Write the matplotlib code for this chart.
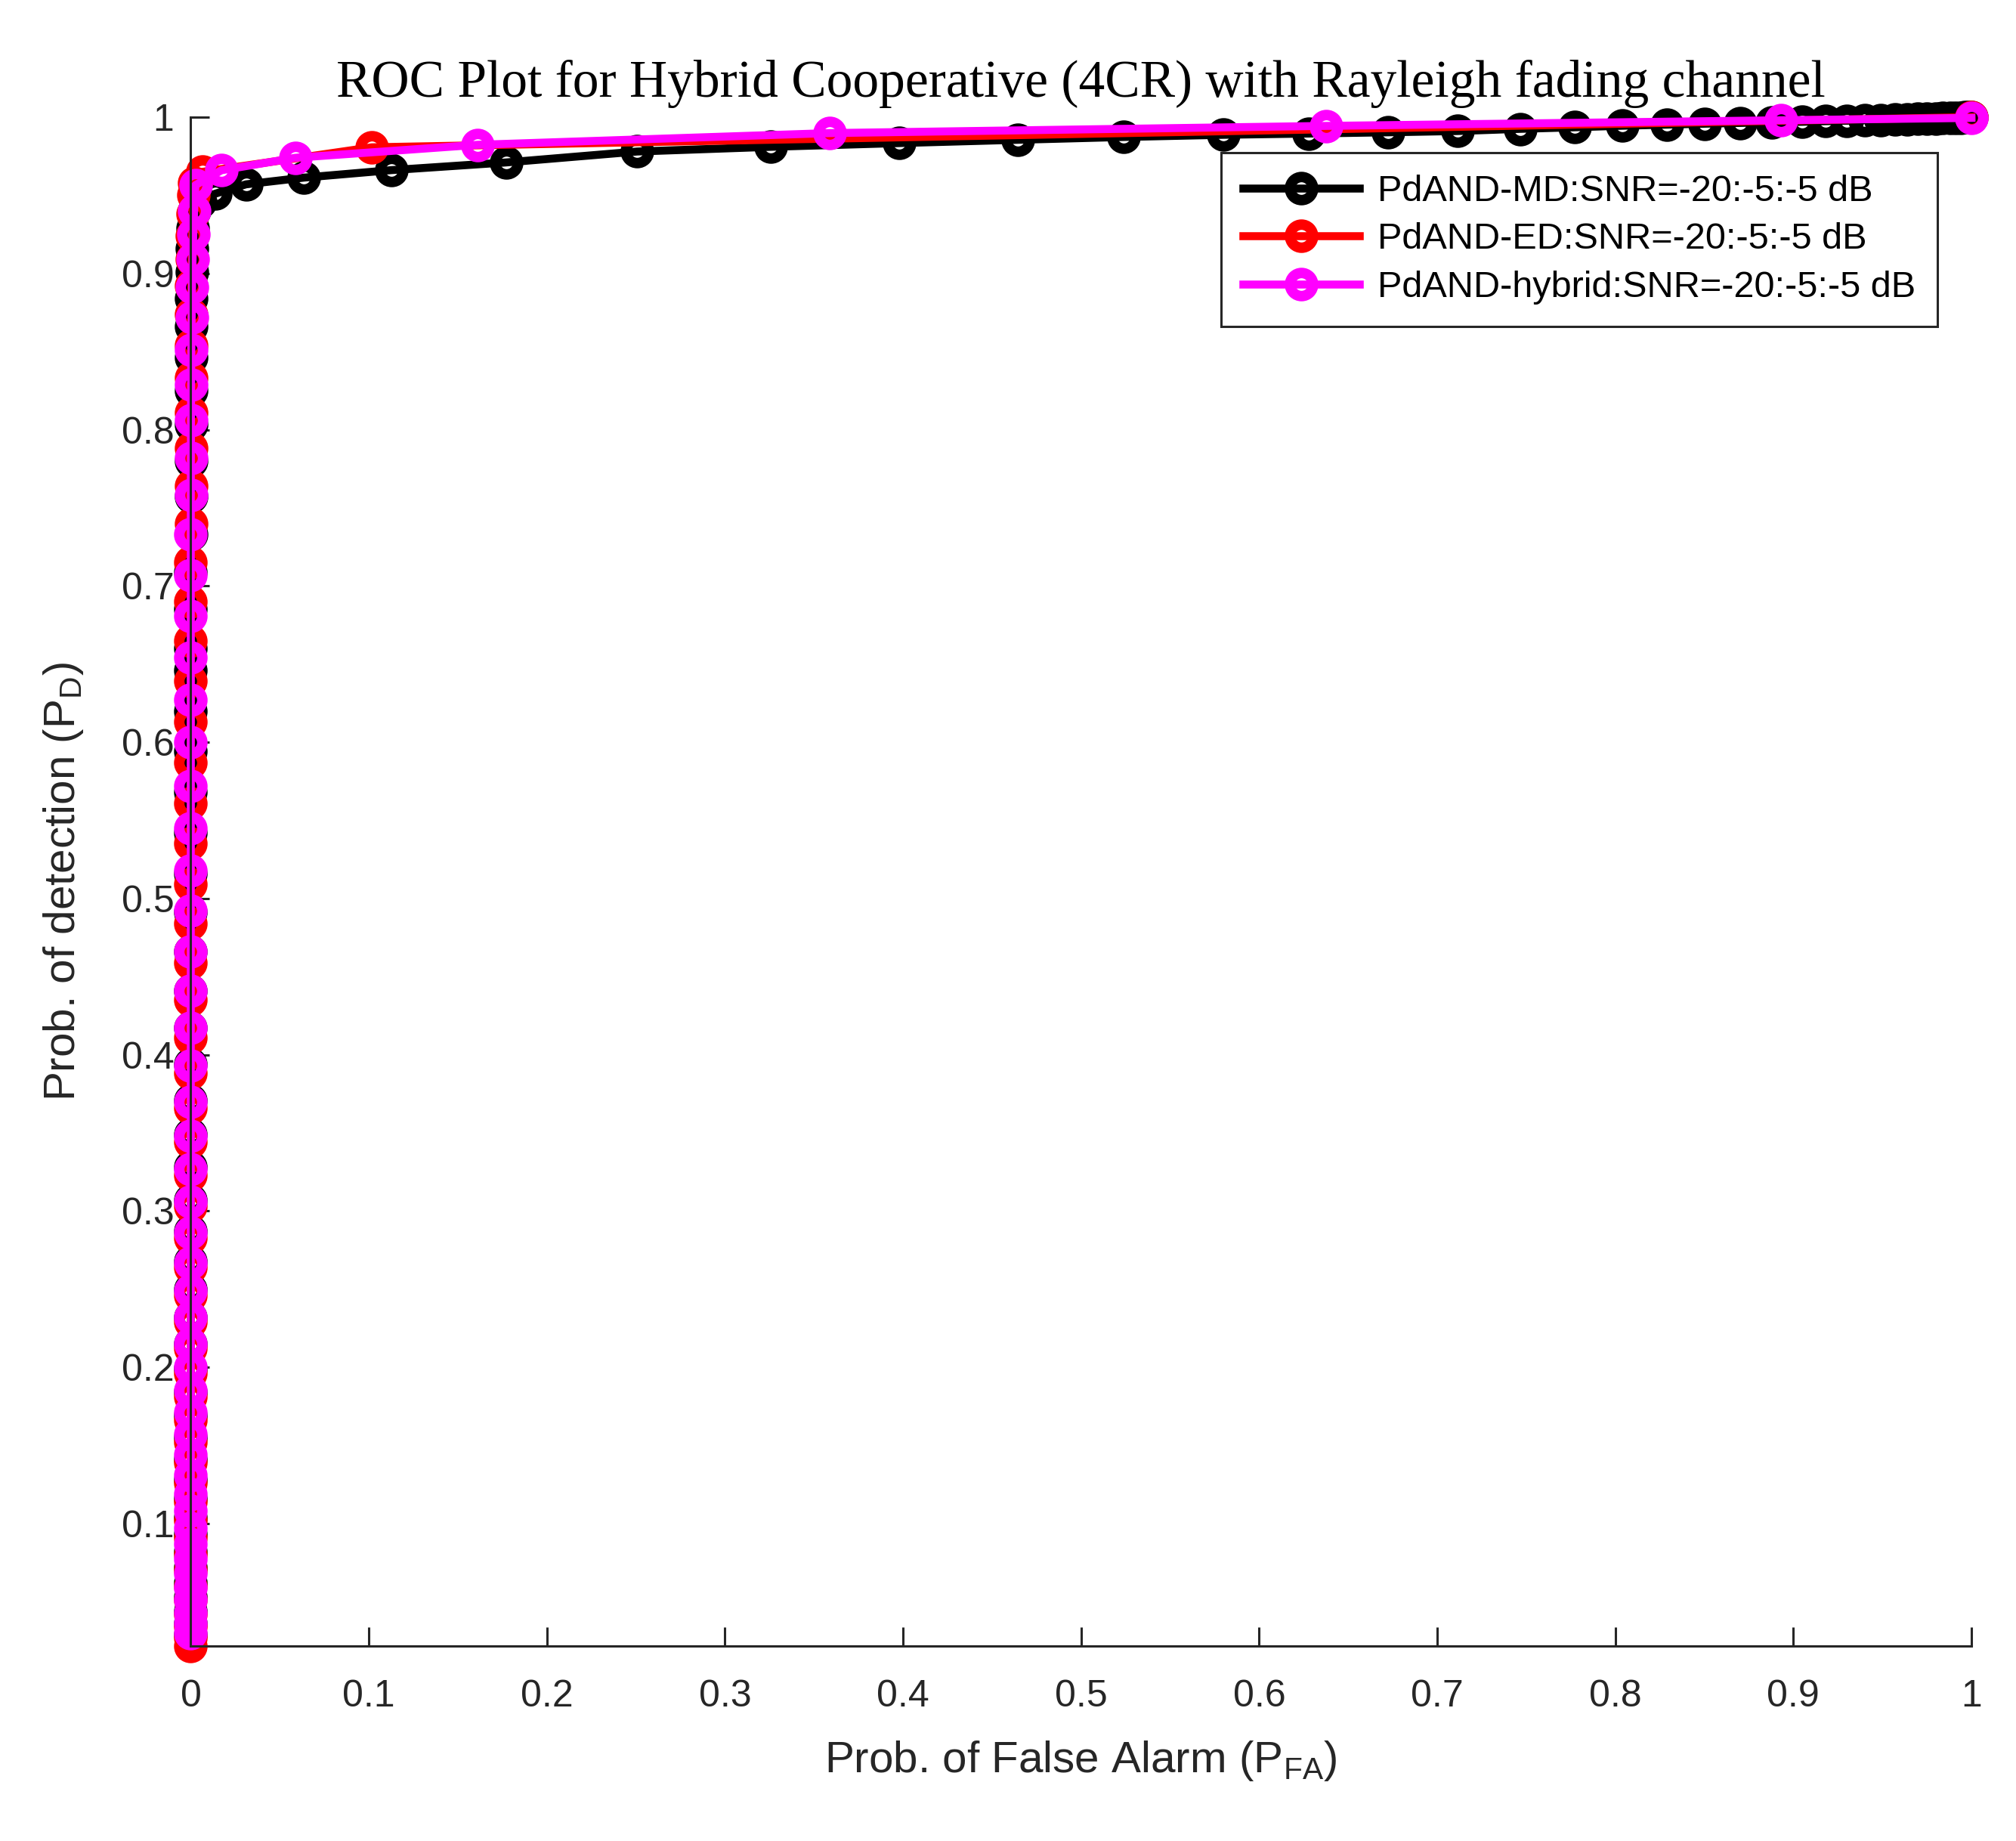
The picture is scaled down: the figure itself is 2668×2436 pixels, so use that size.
import matplotlib
matplotlib.use('Agg')
import matplotlib.pyplot as plt
from matplotlib.ticker import FixedLocator, FixedFormatter

# ---------------- data ----------------
md_pfa = [0.0, 0.0, 0.0, 0.0, 0.0, 0.0, 0.0, 0.0, 0.0, 0.0,
          0.0, 0.0, 0.0, 0.0, 0.0, 0.0, 0.0, 0.0, 0.0, 0.0,
          0.0, 0.0, 0.0, 0.0, 0.0, 0.0, 0.0, 0.0, 0.0, 0.0,
          0.0, 0.0, 0.0, 0.0, 0.0, 0.0, 0.0, 0.0, 0.0, 0.00001,
          0.00002, 0.00004, 0.00007, 0.0001, 0.00015, 0.0002, 0.0003, 0.0005, 0.0008, 0.0012,
          0.0018,
          0.0055, 0.0137, 0.031, 0.0635, 0.1127, 0.177, 0.2507, 0.3257, 0.398, 0.4645,
          0.524, 0.580, 0.628, 0.6726, 0.7113, 0.7465, 0.777, 0.804, 0.829, 0.850,
          0.870, 0.888, 0.905, 0.918, 0.930, 0.940, 0.949, 0.957, 0.964, 0.970,
          0.975, 0.980, 0.984, 0.988, 0.991, 0.994, 0.996, 0.998, 1.0]
md_pd = [0.029, 0.036, 0.044, 0.053, 0.062, 0.072, 0.082, 0.093, 0.104, 0.116,
         0.128, 0.141, 0.155, 0.169, 0.184, 0.199, 0.215, 0.232, 0.250, 0.268,
         0.287, 0.307, 0.328, 0.349, 0.371, 0.394, 0.417, 0.441, 0.466, 0.491,
         0.516, 0.542, 0.568, 0.594, 0.620, 0.646, 0.660, 0.685, 0.709, 0.733,
         0.757, 0.780, 0.803, 0.825, 0.846, 0.866, 0.884, 0.901, 0.916, 0.929,
         0.940,
         0.946, 0.951, 0.957, 0.9613, 0.9661, 0.971, 0.978, 0.981, 0.9834, 0.9855,
         0.9873, 0.9887, 0.9895, 0.9903, 0.9911, 0.9925, 0.9935, 0.9945, 0.9952, 0.9958,
         0.9963, 0.9967, 0.9970, 0.9974, 0.9977, 0.9980, 0.9983, 0.9985, 0.9987, 0.9989,
         0.9990, 0.9992, 0.9993, 0.9995, 0.9996, 0.9997, 0.9998, 0.9999, 1.0]

ed_pfa = [0.0, 0.0, 0.0, 0.0, 0.0, 0.0, 0.0, 0.0, 0.0, 0.0,
          0.0, 0.0, 0.0, 0.0, 0.0, 0.0, 0.0, 0.0, 0.0, 0.0,
          0.0, 0.0, 0.0, 0.0, 0.0, 0.0, 0.0, 0.0, 0.0, 0.0,
          0.0, 0.0, 0.0, 0.0, 0.0, 0.0, 0.0, 0.0, 0.0, 0.0,
          0.00001, 0.00002, 0.00004, 0.00007, 0.0001, 0.00015, 0.0002, 0.0003, 0.0005, 0.0008,
          0.0011, 0.0015, 0.0021,
          0.0066, 0.1016, 1.0]
ed_pd = [0.0216, 0.027, 0.034, 0.042, 0.051, 0.060, 0.070, 0.080, 0.091, 0.102,
         0.114, 0.126, 0.139, 0.152, 0.166, 0.181, 0.196, 0.212, 0.229, 0.246,
         0.264, 0.283, 0.303, 0.323, 0.344, 0.366, 0.388, 0.411, 0.435, 0.459,
         0.484, 0.509, 0.535, 0.561, 0.587, 0.613, 0.639, 0.665, 0.690, 0.715,
         0.740, 0.764, 0.788, 0.811, 0.833, 0.854, 0.874, 0.892, 0.909, 0.924,
         0.938, 0.950, 0.958,
         0.965, 0.9807, 1.0]

hy_pfa = [0.0, 0.0, 0.0, 0.0, 0.0, 0.0, 0.0, 0.0, 0.0, 0.0,
          0.0, 0.0, 0.0, 0.0, 0.0, 0.0, 0.0, 0.0, 0.0, 0.0,
          0.0, 0.0, 0.0, 0.0, 0.0, 0.0, 0.0, 0.0, 0.0, 0.0,
          0.0, 0.0, 0.0, 0.0, 0.0, 0.0, 0.0, 0.0, 0.0, 0.0,
          0.00002, 0.00005, 0.0001, 0.0002, 0.0003, 0.0005, 0.0007, 0.001, 0.0014, 0.0019,
          0.0026, 0.0172, 0.0587, 0.161, 0.3588, 0.6376, 0.893, 1.0]
hy_pd = [0.030, 0.036, 0.043, 0.051, 0.059, 0.068, 0.077, 0.087, 0.097, 0.108,
         0.119, 0.131, 0.144, 0.157, 0.171, 0.185, 0.200, 0.215, 0.232, 0.249,
         0.267, 0.286, 0.306, 0.327, 0.348, 0.370, 0.393, 0.417, 0.441, 0.466,
         0.492, 0.518, 0.545, 0.572, 0.600, 0.627, 0.654, 0.681, 0.707, 0.733,
         0.758, 0.782, 0.806, 0.829, 0.851, 0.872, 0.891, 0.909, 0.925, 0.940,
         0.9565, 0.966, 0.974, 0.9823, 0.9898, 0.9944, 0.998, 0.9995]

series_labels = ['PdAND-MD:SNR=-20:-5:-5 dB',
                 'PdAND-ED:SNR=-20:-5:-5 dB',
                 'PdAND-hybrid:SNR=-20:-5:-5 dB']
series_colors = ['#000000', '#ff0000', '#ff00ff']

x_ticks = [0, 0.1, 0.2, 0.3, 0.4, 0.5, 0.6, 0.7, 0.8, 0.9, 1.0]
x_tick_labels = ['0', '0.1', '0.2', '0.3', '0.4', '0.5', '0.6', '0.7', '0.8', '0.9', '1']
y_ticks = [0.1, 0.2, 0.3, 0.4, 0.5, 0.6, 0.7, 0.8, 0.9, 1.0]
y_tick_labels = ['0.1', '0.2', '0.3', '0.4', '0.5', '0.6', '0.7', '0.8', '0.9', '1']

title_text = 'ROC Plot for Hybrid Cooperative (4CR) with Rayleigh fading channel'
x_label = r'Prob. of False Alarm (P$_{\mathrm{FA}}$)'
y_label = r'Prob. of detection (P$_{\mathrm{D}}$)'

# ---------------- styling ----------------
plt.rcParams['font.family'] = ['Liberation Sans', 'DejaVu Sans']
plt.rcParams['mathtext.fontset'] = 'custom'
plt.rcParams['mathtext.rm'] = 'Liberation Sans'
plt.rcParams['mathtext.it'] = 'Liberation Sans:italic'
plt.rcParams['mathtext.bf'] = 'Liberation Sans:bold'

axis_color = '#262626'

fig = plt.figure(figsize=(13.34, 12.18), dpi=200)
fig.patch.set_facecolor('white')
ax = fig.add_axes([0.09464, 0.10591, 0.88325, 0.83046])

all_x = [md_pfa, ed_pfa, hy_pfa]
all_y = [md_pd, ed_pd, hy_pd]
for xs, ys, lab, col in zip(all_x, all_y, series_labels, series_colors):
    ax.plot(xs, ys, color=col, lw=3.8, marker='o', ms=11, mew=5,
            mfc='none', mec=col, label=lab, clip_on=False)

ax.set_xlim(0, 1)
ax.set_ylim(min(ed_pd), 1.0)

for side in ['top', 'right']:
    ax.spines[side].set_visible(False)
for side in ['left', 'bottom']:
    ax.spines[side].set_color(axis_color)
    ax.spines[side].set_linewidth(1.1)

ax.xaxis.set_major_locator(FixedLocator(x_ticks))
ax.xaxis.set_major_formatter(FixedFormatter(x_tick_labels))
ax.yaxis.set_major_locator(FixedLocator(y_ticks))
ax.yaxis.set_major_formatter(FixedFormatter(y_tick_labels))
ax.tick_params(axis='both', direction='in', length=9, width=1.1,
               colors=axis_color, labelsize=18)
ax.tick_params(axis='x', pad=16)
ax.tick_params(axis='y', pad=8)

ax.set_xlabel(x_label, fontsize=21, color=axis_color)
ax.set_ylabel(y_label, fontsize=21, color=axis_color)
ax.xaxis.set_label_coords(0.5, -0.061)
ax.yaxis.set_label_coords(-0.059, 0.5)

ax.text(0.5, 1.0133, title_text, transform=ax.transAxes, ha='center',
        va='baseline', fontsize=25, family=['Liberation Serif', 'DejaVu Serif'],
        color='black')

leg = ax.legend(loc='upper right', bbox_to_anchor=(0.981, 0.977),
                borderaxespad=0, fontsize=17.5, frameon=True, fancybox=False,
                shadow=False, framealpha=1, edgecolor=axis_color,
                handlelength=3.15, handletextpad=0.5, labelspacing=0.38,
                borderpad=0.6)
leg.get_frame().set_linewidth(1.1)

fig.savefig('out.png', dpi=200, facecolor='white')
